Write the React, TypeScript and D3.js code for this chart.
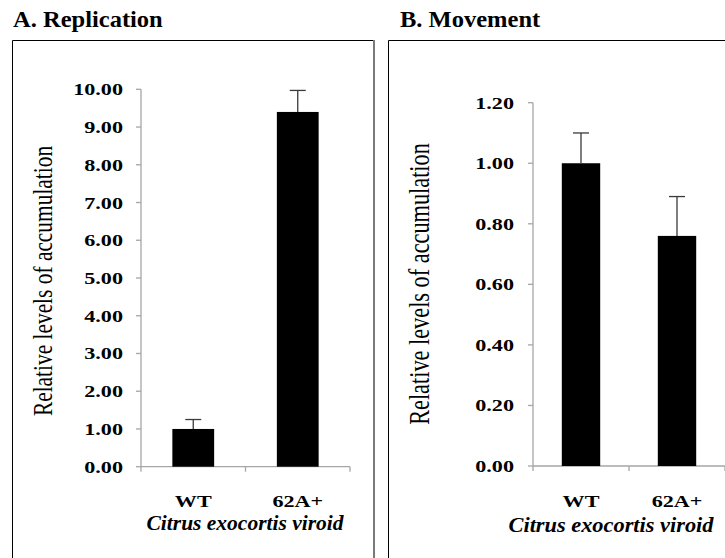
import React from "react";
import * as d3 from "d3";

// Categories and measured relative accumulation levels
const CATEGORIES = ["WT", "62A+"];
const REPLICATION = [1.0, 9.4];
const REPLICATION_ERR = [0.25, 0.57];
const MOVEMENT = [1.0, 0.76];
const MOVEMENT_ERR = [0.1, 0.13];
const REPLICATION_TICKS = [0, 1, 2, 3, 4, 5, 6, 7, 8, 9, 10];
const MOVEMENT_TICKS = [0, 0.2, 0.4, 0.6, 0.8, 1.0, 1.2];

const SERIF = "Liberation Serif";
const AXIS = "#a6a6a6";

type PanelProps = {
  title: string;
  titleX: number;
  values: number[];
  errors: number[];
  ticks: number[];
  yMax: number;
  yRange: [number, number];
  xRange: [number, number];
  tickLabelX: number;
  yLabelX: number;
  yLabelY: number;
  yLabelSize: number;
  xTitleX: number;
  xTitleY: number;
  xTitleLen: number;
};

const font = (size: number, bold = false, italic = false): React.CSSProperties => ({
  fontFamily: SERIF,
  fontSize: `${size}px`,
  fontWeight: bold ? "bold" : "normal",
  fontStyle: italic ? "italic" : "normal",
});

function Panel(p: PanelProps) {
  const y = d3.scaleLinear().domain([0, p.yMax]).range(p.yRange);
  const x = d3.scaleBand<string>().domain(CATEGORIES).range(p.xRange).paddingInner(0).paddingOuter(0);
  const bw = x.bandwidth() * 0.4;
  const base = y(0);
  const top = y(p.yMax);
  const xTicks = [p.xRange[0], ...CATEGORIES.map((c) => (x(c) as number) + x.bandwidth())];
  return (
    <g>
      <text transform={`translate(${p.titleX},26.7) scale(1.09,1)`} style={font(22.5, true)} fill="#000">
        {p.title}
      </text>

      {/* value axis */}
      <line x1={p.xRange[0]} x2={p.xRange[0]} y1={top} y2={base} stroke={AXIS} strokeWidth={1.3} />
      {p.ticks.map((t) => (
        <g key={t}>
          <line x1={p.xRange[0] - 5} x2={p.xRange[0]} y1={y(t)} y2={y(t)} stroke={AXIS} strokeWidth={1.3} />
          <text
            transform={`translate(${p.tickLabelX},${y(t) + 6}) scale(1.28,1)`}
            textAnchor="end"
            style={font(17.3, true)}
            fill="#000"
          >
            {d3.format(".2f")(t)}
          </text>
        </g>
      ))}

      {/* category axis */}
      <line x1={p.xRange[0]} x2={p.xRange[1]} y1={base} y2={base} stroke={AXIS} strokeWidth={1.3} />
      {xTicks.map((tx, i) => (
        <line key={i} x1={tx} x2={tx} y1={base} y2={base + 5} stroke={AXIS} strokeWidth={1.3} />
      ))}

      {/* bars with upper error whiskers */}
      {CATEGORIES.map((c, i) => {
        const cx = (x(c) as number) + x.bandwidth() / 2;
        const v = p.values[i];
        const e = p.errors[i];
        return (
          <g key={c}>
            <rect x={cx - bw / 2} y={y(v)} width={bw} height={base - y(v)} fill="#000" />
            <line x1={cx} x2={cx} y1={y(v)} y2={y(v + e)} stroke="#3a3a3a" strokeWidth={1.3} />
            <line x1={cx - 8} x2={cx + 8} y1={y(v + e)} y2={y(v + e)} stroke="#3a3a3a" strokeWidth={1.3} />
            <text
              transform={`translate(${cx},507) scale(1.28,1)`}
              textAnchor="middle"
              style={font(17.3, true)}
              fill="#000"
            >
              {c}
            </text>
          </g>
        );
      })}

      <text
        x={p.xTitleX}
        y={p.xTitleY}
        textAnchor="middle"
        style={font(20, true, true)}
        textLength={p.xTitleLen}
        lengthAdjust="spacingAndGlyphs"
        fill="#000"
      >
        Citrus exocortis viroid
      </text>

      <text
        transform={`translate(${p.yLabelX},${p.yLabelY}) scale(1.28,1) rotate(-90)`}
        textAnchor="middle"
        style={font(p.yLabelSize)}
        fill="#000"
      >
        Relative levels of accumulation
      </text>
    </g>
  );
}

export default function App() {
  return (
    <svg
      width={725}
      height={558}
      viewBox="0 0 725 558"
      style={{ position: "absolute", left: 0, top: 0, background: "#fff" }}
    >
      <rect x={0} y={0} width={725} height={558} fill="#fff" />
      {/* panel frames */}
      <path d="M12.5,560 V40.5 H374" fill="none" stroke="#000" strokeWidth={1} />
      <line x1={374} x2={374} y1={40} y2={560} stroke="#7a7a7a" strokeWidth={2} />
      <path d="M388.5,560 V40.5 H730" fill="none" stroke="#000" strokeWidth={1} />

      <Panel
        title="A. Replication"
        titleX={13}
        values={REPLICATION}
        errors={REPLICATION_ERR}
        ticks={REPLICATION_TICKS}
        yMax={10}
        yRange={[466.7, 89.3]}
        xRange={[141, 350]}
        tickLabelX={123}
        yLabelX={52}
        yLabelY={281}
        yLabelSize={21.4}
        xTitleX={245}
        xTitleY={530}
        xTitleLen={197}
      />
      <Panel
        title="B. Movement"
        titleX={400}
        values={MOVEMENT}
        errors={MOVEMENT_ERR}
        ticks={MOVEMENT_TICKS}
        yMax={1.2}
        yRange={[466, 102.7]}
        xRange={[533, 725]}
        tickLabelX={514}
        yLabelX={429}
        yLabelY={284}
        yLabelSize={22.3}
        xTitleX={611}
        xTitleY={531.7}
        xTitleLen={205}
      />
    </svg>
  );
}
